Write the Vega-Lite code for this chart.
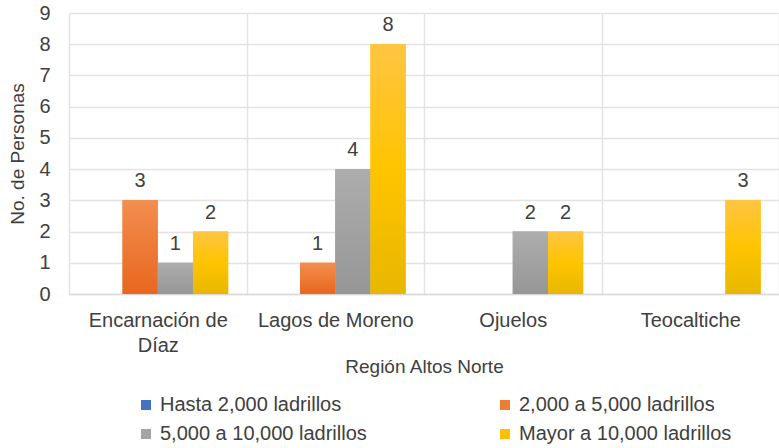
{
  "$schema": "https://vega.github.io/schema/vega-lite/v6.json",
  "autosize": {"type": "none"},
  "padding": {"left": 69, "top": 13, "right": 0, "bottom": 154},
  "width": 710,
  "height": 281,
  "background": "white",
  "config": {
    "font": "Liberation Sans",
    "view": {"stroke": null},
    "axis": {"labelColor": "#404040", "titleColor": "#404040", "labelFontSize": 20, "titleFontSize": 19, "titleFontWeight": "normal", "gridColor": "#e3e3e3", "gridWidth": 1.5},
    "legend": {"labelColor": "#404040", "labelFontSize": 20}
  },
  "data": {
    "values": [
      {"region": "Encarnación de Díaz", "serie": "Hasta 2,000 ladrillos", "v": 0},
      {"region": "Encarnación de Díaz", "serie": "2,000 a 5,000 ladrillos", "v": 3},
      {"region": "Encarnación de Díaz", "serie": "5,000 a 10,000 ladrillos", "v": 1},
      {"region": "Encarnación de Díaz", "serie": "Mayor a 10,000 ladrillos", "v": 2},
      {"region": "Lagos de Moreno", "serie": "Hasta 2,000 ladrillos", "v": 0},
      {"region": "Lagos de Moreno", "serie": "2,000 a 5,000 ladrillos", "v": 1},
      {"region": "Lagos de Moreno", "serie": "5,000 a 10,000 ladrillos", "v": 4},
      {"region": "Lagos de Moreno", "serie": "Mayor a 10,000 ladrillos", "v": 8},
      {"region": "Ojuelos", "serie": "Hasta 2,000 ladrillos", "v": 0},
      {"region": "Ojuelos", "serie": "2,000 a 5,000 ladrillos", "v": 0},
      {"region": "Ojuelos", "serie": "5,000 a 10,000 ladrillos", "v": 2},
      {"region": "Ojuelos", "serie": "Mayor a 10,000 ladrillos", "v": 2},
      {"region": "Teocaltiche", "serie": "Hasta 2,000 ladrillos", "v": 0},
      {"region": "Teocaltiche", "serie": "2,000 a 5,000 ladrillos", "v": 0},
      {"region": "Teocaltiche", "serie": "5,000 a 10,000 ladrillos", "v": 0},
      {"region": "Teocaltiche", "serie": "Mayor a 10,000 ladrillos", "v": 3}
    ]
  },
  "encoding": {
    "x": {
      "field": "region", "type": "nominal", "sort": null,
      "scale": {"paddingInner": 0, "paddingOuter": 0},
      "axis": {
        "title": "Región Altos Norte", "titlePadding": 2,
        "labelAngle": 0, "labelPadding": 16, "labelLineHeight": 25,
        "labelExpr": "datum.label == 'Encarnación de Díaz' ? ['Encarnación de', 'Díaz'] : datum.label",
        "ticks": false, "domainColor": "#d9d9d9", "domainWidth": 1.5,
        "grid": true, "tickBand": "extent"
      }
    },
    "xOffset": {"field": "serie", "type": "nominal", "sort": ["Hasta 2,000 ladrillos", "2,000 a 5,000 ladrillos", "5,000 a 10,000 ladrillos", "Mayor a 10,000 ladrillos"], "scale": {"paddingInner": 0, "paddingOuter": 0.52}},
    "y": {
      "field": "v", "type": "quantitative",
      "scale": {"domain": [0, 9]},
      "axis": {"title": "No. de Personas", "titlePadding": 11, "values": [0,1,2,3,4,5,6,7,8,9], "ticks": false, "domain": false, "labelPadding": 19, "grid": true}
    }
  },
  "layer": [
    {
      "mark": {"type": "bar"},
      "encoding": {
        "color": {
          "field": "serie", "type": "nominal",
          "sort": ["Hasta 2,000 ladrillos", "2,000 a 5,000 ladrillos", "5,000 a 10,000 ladrillos", "Mayor a 10,000 ladrillos"],
          "scale": {
            "domain": ["Hasta 2,000 ladrillos", "2,000 a 5,000 ladrillos", "5,000 a 10,000 ladrillos", "Mayor a 10,000 ladrillos"],
            "range": ["#4472c4", "#ed7d31", "#a5a5a5", "#ffc000"]
          },
          "legend": {
            "title": null, "orient": "none", "direction": "horizontal", "legendX": 67, "legendY": 382,
            "columns": 2, "columnPadding": 128, "rowPadding": 9,
            "symbolType": "square", "symbolSize": 100, "symbolStrokeWidth": 0,
            "labelOffset": 4, "labelLimit": 300
          }
        }
      }
    },
    {
      "transform": [{"filter": "datum.serie == '2,000 a 5,000 ladrillos'"}],
      "mark": {"type": "bar", "fill": {"gradient": "linear", "x1": 0, "y1": 0, "x2": 0, "y2": 1, "stops": [{"offset": 0, "color": "#f28e4f"}, {"offset": 1, "color": "#e8671d"}]}}
    },
    {
      "transform": [{"filter": "datum.serie == '5,000 a 10,000 ladrillos'"}],
      "mark": {"type": "bar", "fill": {"gradient": "linear", "x1": 0, "y1": 0, "x2": 0, "y2": 1, "stops": [{"offset": 0, "color": "#adadad"}, {"offset": 1, "color": "#969696"}]}}
    },
    {
      "transform": [{"filter": "datum.serie == 'Mayor a 10,000 ladrillos'"}],
      "mark": {"type": "bar", "fill": {"gradient": "linear", "x1": 0, "y1": 0, "x2": 0, "y2": 1, "stops": [{"offset": 0, "color": "#ffc542"}, {"offset": 0.5, "color": "#ffc400"}, {"offset": 1, "color": "#e8b700"}]}}
    },
    {
      "transform": [{"filter": "datum.v > 0"}],
      "mark": {"type": "text", "baseline": "bottom", "dy": -9, "fontSize": 20, "color": "#404040"},
      "encoding": {"text": {"field": "v", "type": "quantitative"}}
    }
  ]
}
